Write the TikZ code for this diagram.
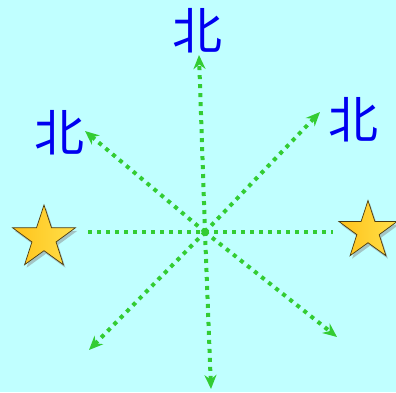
\documentclass[tikz,border=0pt]{standalone}
\usepackage{fontspec}
\newfontfamily\cjk{Noto Sans CJK SC}
\usepackage{tikz}
\usetikzlibrary{arrows.meta,shapes.geometric,shadows}
\definecolor{cSky}{HTML}{C0FFFF}
\definecolor{cDot}{HTML}{33CC33}
\definecolor{cGoldF}{HTML}{FFC21A}
\definecolor{cGoldL}{HTML}{FFE04A}
\definecolor{cGoldD}{HTML}{4A3A10}
\definecolor{cInk}{HTML}{0000F0}
\tikzset{
  dir/.style    = {cDot, line width=4pt, dash pattern=on 4pt off 5pt,
                   -{Stealth[length=14pt,width=12pt]}},
  axis/.style   = {cDot, line width=4pt, dash pattern=on 4pt off 5pt},
  goldstar/.style = {star, star points=5, star point ratio=2.6, draw=cGoldD,
                   line width=0.7pt, left color=cGoldF, right color=cGoldL,
                   drop shadow={shadow xshift=2pt, shadow yshift=-3pt, opacity=0.45},
                   inner sep=0pt},
  bei/.style    = {cInk, font=\cjk\fontsize{50}{50}\selectfont, inner sep=0pt},
}
\begin{document}
\begin{tikzpicture}[x=1pt,y=-1pt]
  \fill[cSky] (0,0) rectangle (396,392);
  \useasboundingbox (0,0) rectangle (396,392);
  \coordinate (o) at (205,232);
  % tips of the arrows
  \coordinate (n)  at (199,55);
  \coordinate (s)  at (211,389);
  \coordinate (nw) at (85,131);
  \coordinate (ne) at (320,112);
  \coordinate (sw) at (89,350);
  \coordinate (se) at (337,337);
  \coordinate (w)  at (88,232);
  \coordinate (e)  at (333,232);
  \draw[axis] (w) -- (e);
  \foreach \t in {n,s,nw,ne,sw,se}
    \draw[dir] (o) -- (\t);
  \node[goldstar, minimum size=66pt] (starL) at (44,238) {};
  \node[goldstar, minimum size=61pt] (starR) at (368,231) {};
  \node[bei] (beiN)  at (197,31)  {北};
  \node[bei] (beiNW) at (59,133)  {北};
  \node[bei] (beiNE) at (353,120) {北};
\end{tikzpicture}
\end{document}
